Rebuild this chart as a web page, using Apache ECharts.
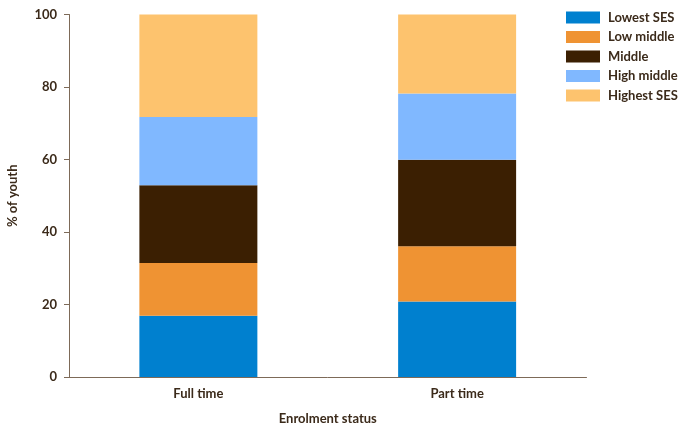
<!DOCTYPE html>
<html><head><meta charset="utf-8">
<script src="https://cdn.jsdelivr.net/npm/echarts@6/dist/echarts.min.js"></script>
<style>html,body{margin:0;padding:0;background:#fff}#c{width:680px;height:428px}</style>
</head><body><div id="c"></div>
<script>
const categories = ['Full time', 'Part time'];
const seriesNames = ['Lowest SES', 'Low middle', 'Middle', 'High middle', 'Highest SES'];
const lowestSES = [16.9, 20.8];
const lowMiddle = [14.55, 15.3];
const middle = [21.45, 23.8];
const highMiddle = [18.8, 18.3];
const highestSES = [28.3, 21.8];
const yTicks = [0, 20, 40, 60, 80, 100];

const colors = ['#0080cf', '#ef9333', '#3b1f02', '#80b8ff', '#fdc36e'];
const txt = '#3b2a1a';
const font = 'Lato';
const dataSets = [lowestSES, lowMiddle, middle, highMiddle, highestSES];

const chart = echarts.init(document.getElementById('c'), null, {renderer: 'canvas'});
chart.setOption({
  animation: false,
  color: colors,
  textStyle: {fontFamily: font},
  grid: {left: 69, right: 93.5, top: 14.5, bottom: 51, containLabel: false, outerBoundsMode: 'none'},
  legend: {
    orient: 'vertical', left: 566, top: 11, padding: 0,
    itemWidth: 34, itemHeight: 12, itemGap: 6.5,
    icon: 'rect',
    data: seriesNames,
    textStyle: {color: txt, fontSize: 13, fontWeight: 'bold', fontFamily: font, padding: [0, 0, 0, 3]}
  },
  xAxis: {
    type: 'category', data: categories,
    name: 'Enrolment status', nameLocation: 'middle', nameGap: 35,
    nameTextStyle: {color: txt, fontSize: 13, fontWeight: 'bold', fontFamily: font},
    axisLine: {lineStyle: {color: '#7d6a58', width: 1}},
    axisTick: {show: false},
    axisLabel: {color: txt, fontSize: 13, fontWeight: 'bold', fontFamily: font, margin: 10}
  },
  yAxis: {
    type: 'value', min: 0, max: 100, interval: 20,
    name: '% of youth', nameLocation: 'middle', nameGap: 50, nameRotate: 90,
    nameTextStyle: {color: txt, fontSize: 13, fontWeight: 'bold', fontFamily: font},
    axisLine: {show: true, lineStyle: {color: '#7d6a58', width: 1}},
    axisTick: {show: true, length: 5, lineStyle: {color: '#7d6a58'}},
    splitLine: {show: false},
    axisLabel: {color: txt, fontSize: 13, fontWeight: 'bold', fontFamily: font, margin: 12,
      formatter: v => yTicks.includes(v) ? String(v) : ''}
  },
  series: seriesNames.map((n, i) => ({
    name: n, type: 'bar', stack: 'total', barWidth: '45.6%',
    data: dataSets[i],
    itemStyle: {color: colors[i]}
  }))
});
</script></body></html>
